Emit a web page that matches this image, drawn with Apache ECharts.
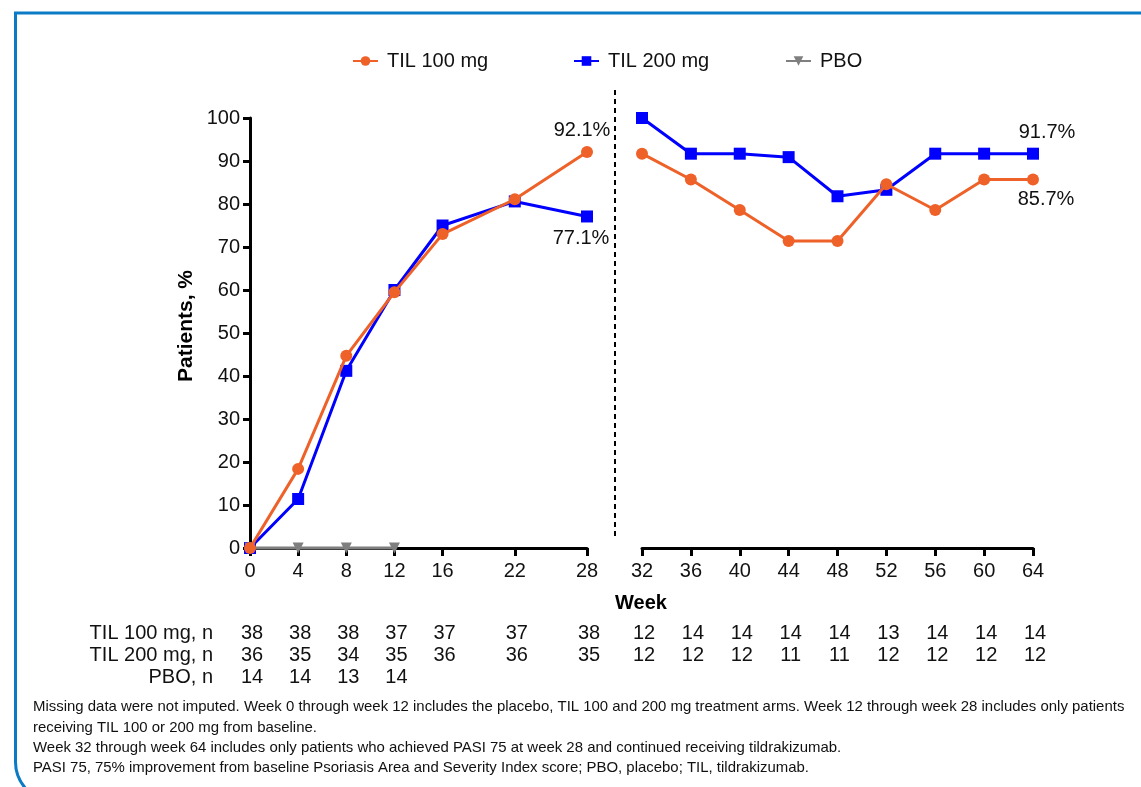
<!DOCTYPE html>
<html>
<head>
<meta charset="utf-8">
<script src="https://cdn.jsdelivr.net/npm/echarts@6/dist/echarts.min.js"></script>
<style>
html,body{margin:0;padding:0;background:#fff;}
#chart{width:1141px;height:787px;}
</style>
</head>
<body>
<div id="chart"></div>
<script>
// ---- data ----
const weeksLeft = [0, 4, 8, 12, 16, 22, 28];
const weeksRight = [32, 36, 40, 44, 48, 52, 56, 60, 64];
const til100Left = [0, 18.4, 44.7, 59.5, 73.0, 81.1, 92.1];
const til100Right = [91.7, 85.7, 78.6, 71.4, 71.4, 84.6, 78.6, 85.7, 85.7];
const til200Left = [0, 11.4, 41.2, 60.0, 75.0, 80.6, 77.1];
const til200Right = [100, 91.7, 91.7, 90.9, 81.8, 83.3, 91.7, 91.7, 91.7];
const pboWeeks = [0, 4, 8, 12];
const pboValues = [0, 0, 0, 0];
const yTicks = [0, 10, 20, 30, 40, 50, 60, 70, 80, 90, 100];
const nWeeks = [0, 4, 8, 12, 16, 22, 28, 32, 36, 40, 44, 48, 52, 56, 60, 64];
const nTil100 = [38, 38, 38, 37, 37, 37, 38, 12, 14, 14, 14, 14, 13, 14, 14, 14];
const nTil200 = [36, 35, 34, 35, 36, 36, 35, 12, 12, 12, 11, 11, 12, 12, 12, 12];
const nPbo = [14, 14, 13, 14];
const rowLabels = ['TIL 100 mg, n', 'TIL 200 mg, n', 'PBO, n'];
const seriesNames = ['TIL 100 mg', 'TIL 200 mg', 'PBO'];
const yTitle = 'Patients, %';
const xTitle = 'Week';
const footnotes = [
  'Missing data were not imputed. Week 0 through week 12 includes the placebo, TIL 100 and 200 mg treatment arms. Week 12 through week 28 includes only patients',
  'receiving TIL 100 or 200 mg from baseline.',
  'Week 32 through week 64 includes only patients who achieved PASI 75 at week 28 and continued receiving tildrakizumab.',
  'PASI 75, 75% improvement from baseline Psoriasis Area and Severity Index score; PBO, placebo; TIL, tildrakizumab.'
];

// ---- styles ----
const FONT = '"Liberation Sans", Arial, sans-serif';
const FS = 20;
const ORANGE = '#EE6128';
const BLUE = '#0000FF';
const GRAY = '#7F7F7F';

function pairs(ws, vs, endLabel) {
  return ws.map((w, i) => {
    if (endLabel && i === ws.length - 1) {
      return { value: [w, vs[i]], label: Object.assign({ show: true }, endLabel) };
    }
    return [w, vs[i]];
  });
}
const pctFmt = p => p.value[1].toFixed(1) + '%';
const lblBase = { color: '#111', fontSize: FS, fontFamily: FONT, formatter: pctFmt };

const chart = echarts.init(document.getElementById('chart'), null, { renderer: 'canvas' });

const axisLineStyle = { color: '#000', width: 3 };
const tickStyle = { color: '#000', width: 3 };
const labelStyle = { color: '#111', fontSize: FS, fontFamily: FONT };
const legendLefts = [347, 568, 780];

const option = {
  animation: false,
  backgroundColor: '#fff',
  legend: seriesNames.map((n, i) => ({
    data: [n],
    left: legendLefts[i],
    top: 46,
    itemWidth: 25,
    itemHeight: 12,
    textStyle: { fontSize: FS, fontFamily: FONT, color: '#111', padding: [0, 0, 0, 4] }
  })),
  grid: [
    { left: 250, right: 554, top: 118, bottom: 239, containLabel: false },
    { left: 642, right: 108, top: 118, bottom: 239, containLabel: false }
  ],
  xAxis: [
    {
      type: 'value', gridIndex: 0, min: 0, max: 28,
      axisLine: { show: true, lineStyle: axisLineStyle, onZero: false },
      axisTick: { show: true, length: 8, lineStyle: tickStyle, customValues: weeksLeft },
      axisLabel: Object.assign({ margin: 13, customValues: weeksLeft }, labelStyle),
      splitLine: { show: false }
    },
    {
      type: 'value', gridIndex: 1, min: 32, max: 64, interval: 4,
      axisLine: { show: true, lineStyle: axisLineStyle, onZero: false },
      axisTick: { show: true, length: 8, lineStyle: tickStyle, customValues: weeksRight },
      axisLabel: Object.assign({ margin: 13, customValues: weeksRight }, labelStyle),
      splitLine: { show: false }
    }
  ],
  yAxis: [
    {
      type: 'value', gridIndex: 0, min: 0, max: 100, interval: 10,
      axisLine: { show: true, lineStyle: axisLineStyle },
      axisTick: { show: true, length: 7, lineStyle: tickStyle },
      axisLabel: Object.assign({ margin: 10, customValues: yTicks }, labelStyle),
      splitLine: { show: false }
    },
    {
      type: 'value', gridIndex: 1, min: 0, max: 100, interval: 10,
      axisLine: { show: false }, axisTick: { show: false }, axisLabel: { show: false },
      splitLine: { show: false }
    }
  ],
  series: [
    {
      name: 'TIL 200 mg', type: 'line', xAxisIndex: 0, yAxisIndex: 0, z: 3,
      symbol: 'rect', symbolSize: 12, clip: false,
      itemStyle: { color: BLUE }, lineStyle: { color: BLUE, width: 3 },
      data: pairs(weeksLeft, til200Left, Object.assign({}, lblBase, { position: 'bottom', offset: [-6, 1] }))
    },
    {
      name: 'TIL 200 mg', type: 'line', xAxisIndex: 1, yAxisIndex: 1, z: 3,
      symbol: 'rect', symbolSize: 12, clip: false,
      itemStyle: { color: BLUE }, lineStyle: { color: BLUE, width: 3 },
      data: pairs(weeksRight, til200Right, Object.assign({}, lblBase, { position: 'top', offset: [14, 0] }))
    },
    {
      name: 'PBO', type: 'line', xAxisIndex: 0, yAxisIndex: 0, z: 4,
      symbol: 'triangle', symbolRotate: 180, symbolSize: 11, clip: false,
      itemStyle: { color: GRAY }, lineStyle: { color: GRAY, width: 3 },
      data: pairs(pboWeeks, pboValues, null)
    },
    {
      name: 'TIL 100 mg', type: 'line', xAxisIndex: 0, yAxisIndex: 0, z: 5,
      symbol: 'circle', symbolSize: 12, clip: false,
      itemStyle: { color: ORANGE }, lineStyle: { color: ORANGE, width: 3 },
      data: pairs(weeksLeft, til100Left, Object.assign({}, lblBase, { position: 'top', offset: [-5, 0] }))
    },
    {
      name: 'TIL 100 mg', type: 'line', xAxisIndex: 1, yAxisIndex: 1, z: 5,
      symbol: 'circle', symbolSize: 12, clip: false,
      itemStyle: { color: ORANGE }, lineStyle: { color: ORANGE, width: 3 },
      data: pairs(weeksRight, til100Right, Object.assign({}, lblBase, { position: 'bottom', offset: [13, -1] }))
    }
  ]
};
chart.setOption(option);

// ---- table, decorations and footnotes ----
const g = [];
// frame
g.push({
  type: 'polyline', silent: true,
  shape: { points: [[1141, 13], [15.5, 13], [15.5, 762]] },
  style: { stroke: '#0B7BC6', lineWidth: 3, fill: null }
});
g.push({
  type: 'bezierCurve', silent: true,
  shape: { x1: 15.5, y1: 762, cpx1: 15.5, cpy1: 778, x2: 27, y2: 790 },
  style: { stroke: '#0B7BC6', lineWidth: 3, fill: null }
});
// dashed separator
g.push({
  type: 'line', silent: true,
  shape: { x1: 615, y1: 90, x2: 615, y2: 540 },
  style: { stroke: '#000', lineWidth: 2, lineDash: [5, 4] }
});
// axis titles
g.push({
  type: 'text', x: 641, y: 603,
  style: { text: xTitle, fontSize: FS, fontWeight: 'bold', fontFamily: FONT, fill: '#000', align: 'center', verticalAlign: 'middle' }
});
g.push({
  type: 'text', x: 186, y: 326, rotation: Math.PI / 2,
  style: { text: yTitle, fontSize: 21, fontWeight: 'bold', fontFamily: FONT, fill: '#000', align: 'center', verticalAlign: 'middle' }
});
// n table
const rowY = [633, 655, 677];
const rowVals = [nTil100, nTil200, nPbo];
rowLabels.forEach((lab, r) => {
  g.push({
    type: 'text', x: 213, y: rowY[r],
    style: { text: lab, fontSize: FS, fontFamily: FONT, fill: '#111', align: 'right', verticalAlign: 'middle' }
  });
  rowVals[r].forEach((v, i) => {
    const w = nWeeks[i];
    const px = w <= 28 ? chart.convertToPixel({ xAxisIndex: 0 }, w) : chart.convertToPixel({ xAxisIndex: 1 }, w);
    g.push({
      type: 'text', x: px + 2, y: rowY[r],
      style: { text: String(v), fontSize: FS, fontFamily: FONT, fill: '#111', align: 'center', verticalAlign: 'middle' }
    });
  });
});
// footnotes: fit first line to the width it occupies in the figure
const ctx = document.createElement('canvas').getContext('2d');
ctx.font = '13px "Liberation Sans", Arial, sans-serif';
const w13 = ctx.measureText(footnotes[0]).width;
const footFS = Math.min(15, Math.max(11, 13 * 1092 / w13));
const fy = [707, 728, 748, 768];
footnotes.forEach((t, i) => {
  g.push({
    type: 'text', x: 33, y: fy[i],
    style: { text: t, fontSize: footFS, fontFamily: FONT, fill: '#111', align: 'left', verticalAlign: 'middle' }
  });
});
chart.setOption({ graphic: g });
</script>
</body>
</html>
